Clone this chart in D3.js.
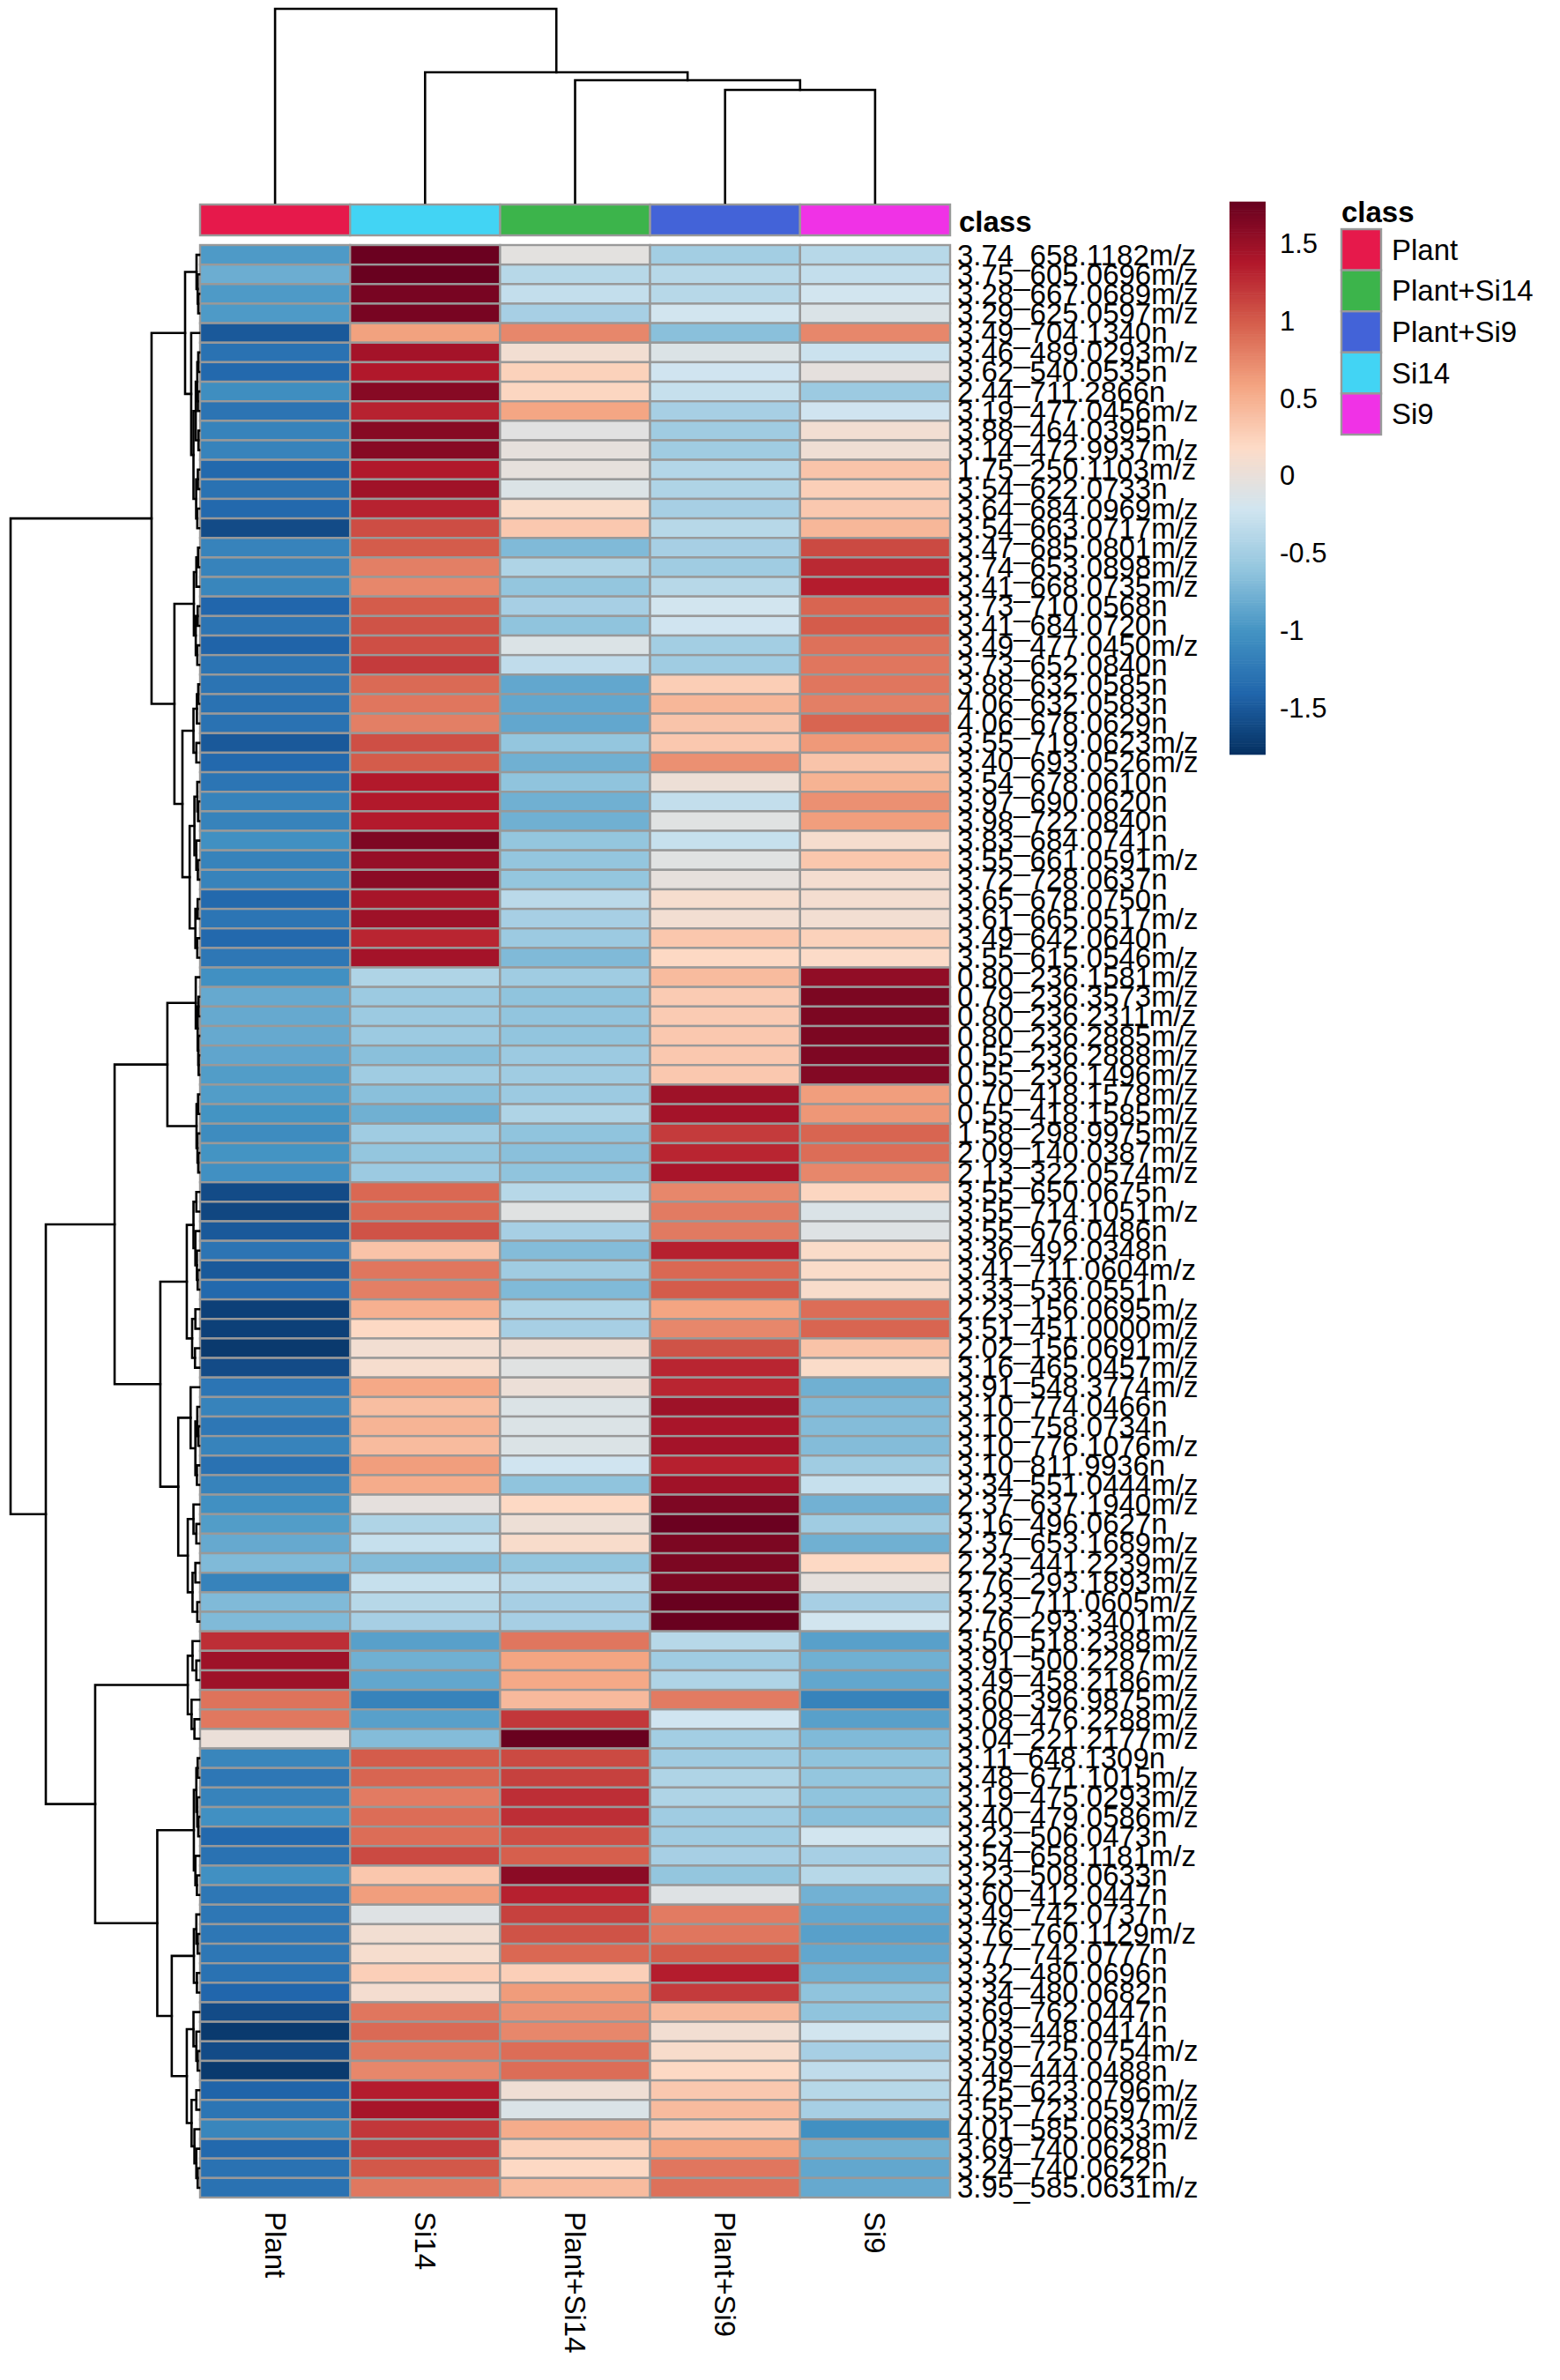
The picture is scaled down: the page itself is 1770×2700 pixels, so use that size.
<!DOCTYPE html>
<html><head><meta charset="utf-8">
<script src="https://cdn.jsdelivr.net/npm/d3@7"></script>
<style>html,body{margin:0;padding:0;background:#fff;} text{font-family:"Liberation Sans",Arial,Helvetica,sans-serif;}</style>
</head><body>
<svg id="chart" width="1770" height="2700"></svg>
<script>
// ---------------- data ----------------
const columns = ["Plant", "Si14", "Plant+Si14", "Plant+Si9", "Si9"];
const legendClasses = ["Plant", "Plant+Si14", "Plant+Si9", "Si14", "Si9"];
const classColors = ["#E6194B", "#3CB44B", "#4363D8", "#42D4F4", "#F032E6"]; // in legendClasses order
const colorTicks = [1.5, 1, 0.5, 0, -0.5, -1, -1.5];
const colorRange = [-1.80, 1.77];
const palette = ["#053061","#2166AC","#4393C3","#92C5DE","#D1E5F0","#FDDBC7","#F4A582","#D6604D","#B2182B","#67001F"];

const rowLabels = [
"3.74_658.1182m/z","3.75_605.0696m/z","3.28_667.0689m/z","3.29_625.0597m/z","3.49_704.1340n",
"3.46_489.0293m/z","3.62_540.0535n","2.44_711.2866n","3.19_477.0456m/z","3.88_464.0395n",
"3.14_472.9937m/z","1.75_250.1103m/z","3.54_622.0733n","3.64_684.0969m/z","3.54_663.0717m/z",
"3.47_685.0801m/z","3.74_653.0898m/z","3.41_668.0735m/z","3.73_710.0568n","3.41_684.0720n",
"3.49_477.0450m/z","3.73_652.0840n","3.88_632.0585n","4.06_632.0583n","4.06_678.0629n",
"3.55_719.0623m/z","3.40_693.0526m/z","3.54_678.0610n","3.97_690.0620n","3.98_722.0840n",
"3.83_684.0741n","3.55_661.0591m/z","3.72_728.0637n","3.65_678.0750n","3.61_665.0517m/z",
"3.49_642.0640n","3.55_615.0546m/z","0.80_236.1581m/z","0.79_236.3573m/z","0.80_236.2311m/z",
"0.80_236.2885m/z","0.55_236.2888m/z","0.55_236.1496m/z","0.70_418.1578m/z","0.55_418.1585m/z",
"1.58_298.9975m/z","2.09_140.0387m/z","2.13_322.0574m/z","3.55_650.0675n","3.55_714.1051m/z",
"3.55_676.0486n","3.36_492.0348n","3.41_711.0604m/z","3.33_536.0551n","2.23_156.0695m/z",
"3.51_451.0000m/z","2.02_156.0691m/z","3.16_465.0457m/z","3.91_548.3774m/z","3.10_774.0466n",
"3.10_758.0734n","3.10_776.1076m/z","3.10_811.9936n","3.34_551.0444m/z","2.37_637.1940m/z",
"3.16_496.0627n","2.37_653.1689m/z","2.23_441.2239m/z","2.76_293.1893m/z","3.23_711.0605m/z",
"2.76_293.3401m/z","3.50_518.2388m/z","3.91_500.2287m/z","3.49_458.2186m/z","3.60_396.9875m/z",
"3.08_476.2288m/z","3.04_221.2177m/z","3.11_648.1309n","3.48_671.1015m/z","3.19_475.0293m/z",
"3.40_479.0586m/z","3.23_506.0473n","3.54_658.1181m/z","3.23_508.0633n","3.60_412.0447n",
"3.49_742.0737n","3.76_760.1129m/z","3.77_742.0777n","3.32_480.0696n","3.34_480.0682n",
"3.69_762.0447n","3.03_448.0414n","3.59_725.0754m/z","3.49_444.0488n","4.25_623.0796m/z",
"3.55_723.0597m/z","4.01_585.0633m/z","3.69_740.0628n","3.24_740.0622n","3.95_585.0631m/z"];

const plant = [
-0.95,-0.8,-0.95,-0.95,-1.5,-1.3,-1.38,-1.05,-1.28,-1.15,
-1.15,-1.38,-1.3,-1.38,-1.6,-1.15,-1.15,-1.12,-1.4,-1.28,
-1.42,-1.28,-1.28,-1.3,-1.3,-1.5,-1.38,-1.27,-1.15,-1.15,
-1.03,-1.15,-1.15,-1.38,-1.27,-1.38,-1.25,-1.03,-0.83,-0.83,
-0.83,-0.86,-0.93,-0.93,-1.0,-1.07,-1.0,-1.03,-1.6,-1.63,
-1.5,-1.28,-1.5,-1.38,-1.68,-1.68,-1.73,-1.6,-1.27,-1.15,
-1.25,-1.15,-1.3,-1.15,-1.03,-0.93,-0.83,-0.7,-1.15,-0.7,
-0.7,1.25,1.48,1.48,0.87,0.84,0.02,-1.12,-1.25,-1.15,
-1.03,-1.38,-1.3,-1.03,-1.25,-1.25,-1.25,-1.25,-1.3,-1.4,
-1.6,-1.73,-1.6,-1.73,-1.42,-1.27,-1.12,-1.38,-1.3,-1.3];

const si14 = [
1.75,1.76,1.68,1.68,0.6,1.45,1.38,1.6,1.32,1.6,
1.6,1.38,1.47,1.32,1.08,1.0,0.8,0.75,1.0,1.05,
1.07,1.18,0.92,0.85,0.8,1.07,1.0,1.37,1.37,1.36,
1.65,1.52,1.58,1.43,1.48,1.3,1.45,-0.43,-0.55,-0.55,
-0.55,-0.65,-0.52,-0.65,-0.78,-0.52,-0.6,-0.55,0.93,0.93,
1.05,0.36,0.85,0.8,0.5,0.2,0.08,0.12,0.55,0.4,
0.47,0.42,0.62,0.53,-0.03,-0.43,-0.28,-0.68,-0.28,-0.38,
-0.48,-0.9,-0.78,-0.85,-1.15,-0.9,-0.68,1.0,0.95,0.82,
0.9,0.9,1.1,0.33,0.62,-0.1,0.08,0.12,0.27,0.1,
0.85,0.92,0.84,0.75,1.35,1.43,1.2,1.18,1.02,0.84];

const plantSi14 = [
-0.05,-0.38,-0.3,-0.48,0.75,0.08,0.25,0.22,0.57,-0.07,
-0.02,-0.02,-0.12,0.16,0.32,-0.7,-0.43,-0.6,-0.48,-0.62,
-0.12,-0.32,-0.85,-0.85,-0.85,-0.6,-0.78,-0.62,-0.78,-0.78,
-0.6,-0.6,-0.6,-0.36,-0.48,-0.55,-0.7,-0.52,-0.62,-0.61,
-0.61,-0.55,-0.52,-0.55,-0.43,-0.62,-0.65,-0.62,-0.38,-0.08,
-0.48,-0.68,-0.52,-0.7,-0.43,-0.48,0.06,-0.08,0.03,-0.12,
-0.12,-0.12,-0.22,-0.62,0.2,0.04,0.14,-0.6,-0.36,-0.48,
-0.48,0.85,0.58,0.55,0.43,1.2,1.76,1.1,1.15,1.25,
1.25,1.07,0.98,1.58,1.33,1.15,1.05,0.93,0.27,0.63,
0.7,0.75,0.9,0.9,0.06,-0.13,0.53,0.25,0.2,0.42];

const plantSi9 = [
-0.5,-0.38,-0.38,-0.2,-0.65,-0.12,-0.22,-0.28,-0.48,-0.52,
-0.52,-0.4,-0.43,-0.48,-0.38,-0.48,-0.52,-0.38,-0.2,-0.22,
-0.5,-0.52,0.28,0.45,0.35,0.32,0.7,0.04,-0.3,-0.08,
-0.28,-0.08,-0.02,0.12,0.08,0.33,0.2,0.42,0.3,0.3,
0.32,0.32,0.32,1.48,1.45,1.18,1.3,1.42,0.75,0.82,
0.83,1.33,0.93,1.0,0.58,0.75,1.05,1.3,1.3,1.48,
1.42,1.45,1.33,1.47,1.65,1.75,1.66,1.66,1.66,1.76,
1.76,-0.38,-0.52,-0.43,0.82,-0.22,-0.5,-0.52,-0.43,-0.43,
-0.52,-0.52,-0.48,-0.6,-0.1,0.82,0.85,1.0,1.35,1.18,
0.43,0.08,0.14,0.2,0.32,0.42,0.33,0.58,0.85,0.88];

const si9 = [
-0.38,-0.3,-0.2,-0.13,0.75,-0.25,-0.03,-0.55,-0.22,0.08,
0.06,0.35,0.27,0.32,0.45,1.1,1.28,1.35,0.95,1.0,
0.88,0.85,0.85,0.8,0.95,0.65,0.35,0.48,0.7,0.62,
0.12,0.33,0.1,0.1,0.08,0.25,0.17,1.55,1.66,1.66,
1.66,1.65,1.62,0.62,0.66,0.95,0.9,0.75,0.22,-0.13,
-0.1,0.16,0.16,0.14,0.9,0.95,0.36,0.16,-0.78,-0.7,
-0.68,-0.68,-0.52,-0.28,-0.77,-0.52,-0.78,0.2,-0.02,-0.48,
-0.2,-0.9,-0.78,-0.85,-1.15,-0.9,-0.7,-0.62,-0.6,-0.62,
-0.65,-0.2,-0.48,-0.38,-0.77,-0.85,-0.9,-0.85,-0.78,-0.62,
-0.62,-0.2,-0.48,-0.32,-0.38,-0.48,-1.03,-0.78,-0.85,-0.83];

// Row dendrogram: [height, left, right]; leaves are 1-based row numbers
const rowTree = [9.9,
  [2.5,
    [0.74,
      [0.14, 1, [0.08, 2, [0.05, 3, 4]]],
      [0.42, 5, [0.3, [0.18, [0.1, [0.05,6,7], [0.07,8,9]], [0.04,10,11]], [0.16, [0.07,12,13], [0.1,14,15]]]]],
    [1.3,
      [0.28, [0.15, [0.06,16,17], 18], [0.18, [0.08,19,20], [0.1,21,22]]],
      [0.88,
        [0.3, [0.12, [0.05,23,24], 25], [0.15,26,27]],
        [0.5, [0.25, [0.1, 28, [0.06,29,30]], [0.15, 31, [0.07,32,33]]], [0.2, [0.08,34,35], [0.1,36,37]]]]]],
  [8.05,
    [4.44,
      [1.67, [0.18, 38, [0.08, [0.04,39,40], [0.05, 41, [0.03,42,43]]]], [0.14, [0.06,44,45], [0.09, 46, [0.05,47,48]]]],
      [2.04,
        [0.65, [0.3, [0.15,49,50], [0.2, 51, [0.12, 52, [0.08,53,54]]]], [0.37, [0.2,55,56], [0.22,57,58]]],
        [1.1, [0.45, 59, [0.2, [0.1, 60, [0.05,61,62]], [0.12,63,64]]], [0.6, [0.3, 65, [0.15,66,67]], [0.35, [0.2,68,69], [0.1,70,71]]]]]],
    [5.46,
      [0.6, [0.35, 72, [0.15,73,74]], [0.4, 75, [0.25,76,77]]],
      [2.2,
        [0.28, [0.15, [0.08,78,79], [0.1, 80, [0.05,81,82]]], [0.2, 83, [0.12,84,85]]],
        [1.44,
          [0.28, [0.15, 86, [0.08,87,88]], [0.12,89,90]],
          [0.65, [0.3, 91, [0.15, 92, [0.08,93,94]]], [0.4, [0.15,95,96], [0.25, 97, [0.15, 98, [0.08,99,100]]]]]]]]]];

// Column dendrogram: leaves are 1-based column numbers
const colTree = [10, 1, [6.73, 2, [6.32, 3, [5.82, 4, 5]]]];

// ---------------- drawing ----------------
const series = [plant, si14, plantSi14, plantSi9, si9];
const svg = d3.select("#chart");
svg.append("rect").attr("width",1770).attr("height",2700).attr("fill","#fff");

const hmLeft = 227, hmRight = 1078, hmTop = 278, hmBottom = 2493;
const x = d3.scaleBand().domain(d3.range(columns.length)).range([hmLeft, hmRight]);
const y = d3.scaleBand().domain(d3.range(rowLabels.length)).range([hmTop, hmBottom]);
const color = d3.scaleLinear()
  .domain(d3.range(palette.length).map(i => colorRange[0] + i*(colorRange[1]-colorRange[0])/(palette.length-1)))
  .range(palette).clamp(true);

const cells = [];
series.forEach((s, j) => s.forEach((v, i) => cells.push({i, j, v})));
svg.append("g").selectAll("rect").data(cells).join("rect")
  .attr("x", d => x(d.j)).attr("y", d => y(d.i))
  .attr("width", x.bandwidth()).attr("height", y.bandwidth())
  .attr("fill", d => color(d.v))
  .attr("stroke", "#999").attr("stroke-width", 2.4);

// annotation bar
const colClass = columns.map(c => classColors[legendClasses.indexOf(c)]);
svg.append("g").selectAll("rect").data(columns).join("rect")
  .attr("x", (d,j) => x(j)).attr("y", 232).attr("width", x.bandwidth()).attr("height", 35)
  .attr("fill", (d,j) => colClass[j]).attr("stroke", "#999").attr("stroke-width", 2.4);
svg.append("text").attr("x", 1088).attr("y", 251).attr("dominant-baseline","central")
  .attr("font-size", 33).attr("font-weight","bold").text("class");

// row labels
svg.append("g").selectAll("text").data(rowLabels).join("text")
  .attr("x", 1086).attr("y", (d,i) => y(i) + y.bandwidth()/2)
  .attr("dominant-baseline","central").attr("font-size", 33).attr("fill","#000").text(d => d);

// column labels
svg.append("g").selectAll("text").data(columns).join("text")
  .attr("transform", (d,j) => `translate(${x(j)+x.bandwidth()/2},2509) rotate(90)`)
  .attr("dominant-baseline","central").attr("font-size", 33).text(d => d);

// dendrograms
function layoutTree(node, leafPos, hScale, paths, horizontal) {
  if (!Array.isArray(node)) return {pos: leafPos(node), h: 0};
  const [h, a, b] = node;
  const pa = layoutTree(a, leafPos, hScale, paths, horizontal);
  const pb = layoutTree(b, leafPos, hScale, paths, horizontal);
  const p = d3.path();
  if (horizontal) {
    p.moveTo(hScale(pa.h), pa.pos); p.lineTo(hScale(h), pa.pos);
    p.lineTo(hScale(h), pb.pos); p.lineTo(hScale(pb.h), pb.pos);
  } else {
    p.moveTo(pa.pos, hScale(pa.h)); p.lineTo(pa.pos, hScale(h));
    p.lineTo(pb.pos, hScale(h)); p.lineTo(pb.pos, hScale(pb.h));
  }
  paths.push(p.toString());
  return {pos: (pa.pos + pb.pos)/2, h};
}
const rowPaths = [];
const hx = d3.scaleLinear().domain([0, rowTree[0]]).range([226, 12]);
layoutTree(rowTree, k => y(k-1) + y.bandwidth()/2, hx, rowPaths, true);
const colPaths = [];
const vy = d3.scaleLinear().domain([0, colTree[0]]).range([230, 10]);
layoutTree(colTree, k => x(k-1) + x.bandwidth()/2, vy, colPaths, false);
svg.append("g").selectAll("path").data(rowPaths.concat(colPaths)).join("path")
  .attr("d", d => d).attr("fill","none").attr("stroke","#000").attr("stroke-width",2.6)
  .attr("stroke-linecap","square");

// color legend
const cbTop = 229, cbBottom = 856, cbX = 1395, cbW = 41;
const cy = d3.scaleLinear().domain(colorRange).range([cbBottom, cbTop]);
const nSteps = 200;
const stepVals = d3.range(nSteps).map(i => colorRange[0] + (i+0.5)*(colorRange[1]-colorRange[0])/nSteps);
const stepH = (cbBottom - cbTop)/nSteps;
svg.append("g").selectAll("rect").data(stepVals).join("rect")
  .attr("x", cbX).attr("width", cbW)
  .attr("y", d => cy(d) - stepH/2 - 0.3).attr("height", stepH + 0.6)
  .attr("fill", d => color(d));
svg.append("g").selectAll("text").data(colorTicks).join("text")
  .attr("x", 1452).attr("y", d => cy(d)).attr("dominant-baseline","central")
  .attr("font-size", 31).text(d => String(d));

// class legend
svg.append("text").attr("x", 1522).attr("y", 240).attr("dominant-baseline","central")
  .attr("font-size", 33).attr("font-weight","bold").text("class");
const boxH = 46.6;
const lg = svg.append("g").selectAll("g").data(legendClasses).join("g")
  .attr("transform", (d,i) => `translate(1522,${260 + i*boxH})`);
lg.append("rect").attr("width", 45).attr("height", boxH)
  .attr("fill", (d,i) => classColors[i]).attr("stroke","#999").attr("stroke-width",2.4);
lg.append("text").attr("x", 57).attr("y", boxH/2).attr("dominant-baseline","central")
  .attr("font-size", 33).text(d => d);
</script>
</body></html>
